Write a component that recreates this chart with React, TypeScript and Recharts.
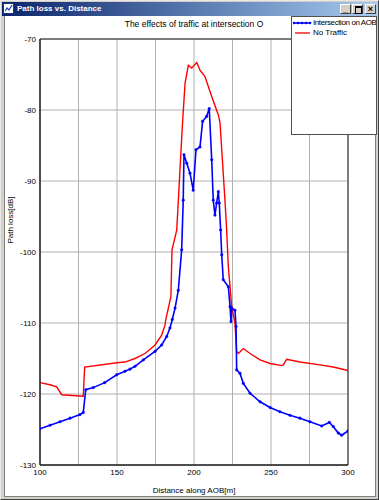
import React from 'react';
import { LineChart, Line, XAxis, YAxis, CartesianGrid, ReferenceArea, Legend } from 'recharts';

const chartTitle = 'The effects of traffic at intersection O';
const windowTitle = 'Path loss vs. Distance';
const seriesNames = ['Intersection on AOB', 'No Traffic'];

const blueDist = [100, 106.5, 113, 119.5, 126, 128.1, 129.7, 134.6, 142, 149.8, 155.2, 158.4, 161.7, 167.1, 174.7, 179, 182.3, 184.4, 185.9, 187.7, 189.8, 192, 193, 193.5, 195.3, 197.4, 199.5, 201.3, 203.9, 205.6, 208.2, 209.9, 211.5, 212.5, 213.6, 214.7, 215.8, 216.4, 217.3, 218, 219, 222.3, 223.4, 224, 224.5, 226.6, 227.3, 227.7, 229.9, 232, 236.4, 242.9, 249.4, 255.8, 262.3, 268.8, 275.3, 282.9, 287.9, 290.5, 293.7, 295.9, 300];
const blueLoss = [-124.9, -124.4, -123.9, -123.4, -122.9, -122.6, -119.4, -119.1, -118.4, -117.3, -116.8, -116.5, -116.1, -115.2, -114.0, -113.1, -111.9, -110.7, -109.5, -107.9, -105.4, -99.7, -92.7, -86.3, -87.5, -88.9, -91.3, -85.6, -85.2, -81.6, -80.9, -79.8, -87.0, -92.7, -94.8, -93.1, -91.5, -93.1, -96.9, -100.4, -103.9, -104.9, -107.7, -109.8, -107.9, -108.2, -110.5, -116.6, -117.1, -118.5, -119.9, -121.1, -121.9, -122.5, -123.0, -123.4, -123.9, -124.5, -124.0, -124.6, -125.5, -125.8, -125.2];

const redDist = [100, 106.5, 110.8, 114.1, 128.1, 129, 150, 155.2, 161.7, 168.2, 174.7, 179, 181.2, 181.6, 185, 185.7, 187.7, 188.8, 190.5, 192.5, 194.2, 196.3, 198.5, 201.8, 203.9, 207.1, 211.5, 215.8, 216.9, 220.1, 221.2, 222.3, 224.5, 226.6, 227.7, 228.8, 232, 236.4, 242.9, 249.4, 256.9, 258, 260.2, 268.8, 281.8, 290.4, 300];
const redLoss = [-118.4, -118.7, -119.0, -120.1, -120.3, -116.2, -115.6, -115.5, -115.0, -114.3, -113.1, -111.7, -110.3, -109.6, -106.3, -99.7, -97.9, -96.9, -90.0, -82.0, -76.2, -73.7, -74.1, -73.3, -74.4, -75.3, -78.1, -80.7, -81.8, -92.7, -96.9, -102.1, -107.7, -110.0, -114.0, -114.3, -113.6, -114.3, -115.2, -115.7, -116.0, -115.9, -115.1, -115.5, -115.9, -116.2, -116.7];

const xTicks = [100, 125, 150, 175, 200, 225, 250, 275, 300];
const yTicks = [-130, -120, -110, -100, -90, -80, -70];

const blueData = blueDist.map((d, i) => ({ dist: d, loss: blueLoss[i] }));
const redData = redDist.map((d, i) => ({ dist: d, loss: redLoss[i] }));

const FONT = '"Liberation Sans", Arial, sans-serif';

const LegendBox = () => (
  <div style={{ width: 86, height: 119, background: '#fff', border: '1px solid #505050', boxSizing: 'border-box', overflow: 'hidden', fontFamily: FONT, fontSize: 8, color: '#000' }}>
    <div style={{ position: 'relative', height: 10, marginTop: 1 }}>
      <svg width={20} height={10} style={{ position: 'absolute', left: 1, top: 0 }}>
        <line x1={0} y1={5} x2={18} y2={5} stroke="#0000ff" strokeWidth={1.5} />
        {[1, 5, 9, 13, 17].map((x) => <circle key={x} cx={x} cy={5} r={1.3} fill="#0000ff" />)}
      </svg>
      <span style={{ position: 'absolute', left: 21, top: 0, lineHeight: '10px', whiteSpace: 'nowrap', letterSpacing: -0.4 }}>{seriesNames[0]}</span>
    </div>
    <div style={{ position: 'relative', height: 10 }}>
      <svg width={20} height={10} style={{ position: 'absolute', left: 3, top: 0 }}>
        <line x1={0} y1={5} x2={15} y2={5} stroke="#ff0000" strokeWidth={1.3} />
      </svg>
      <span style={{ position: 'absolute', left: 21, top: 0, lineHeight: '10px', whiteSpace: 'nowrap' }}>{seriesNames[1]}</span>
    </div>
  </div>
);

const btn: React.CSSProperties = {
  position: 'absolute', top: 4, width: 11, height: 10, background: '#d4d0c8',
  borderTop: '1px solid #fff', borderLeft: '1px solid #fff', borderRight: '1px solid #404040', borderBottom: '1px solid #404040',
  boxSizing: 'border-box', fontFamily: FONT, fontSize: 8, fontWeight: 'bold', lineHeight: '8px', textAlign: 'center', color: '#000',
};

export default function App() {
  return (
    <div style={{ position: 'fixed', left: 0, top: 0, width: 379, height: 500, background: '#d4d0c8', overflow: 'hidden', fontFamily: FONT }}>
      <div style={{ position: 'absolute', left: 0, top: 0, width: 379, height: 500, boxSizing: 'border-box', borderTop: '1px solid #e8e8e8', borderLeft: '1px solid #e8e8e8', borderRight: '1px solid #404040', borderBottom: '1px solid #404040' }} />
      <div style={{ position: 'absolute', left: 2, top: 2, width: 375, height: 14, background: 'linear-gradient(to right, #0a246a, #a6caf0)' }} />
      <div style={{ position: 'absolute', left: 3, top: 3, width: 11, height: 11, background: '#fff', border: '1px solid #203080', boxSizing: 'border-box' }}>
        <svg width={9} height={9} style={{ position: 'absolute', left: 0, top: 0 }}>
          <polyline points="1,7 3,4 5,6 8,1" fill="none" stroke="#2040c0" strokeWidth={1.2} />
        </svg>
      </div>
      <div style={{ position: 'absolute', left: 17, top: 3, color: '#fff', fontWeight: 'bold', fontSize: 8, lineHeight: '11px', whiteSpace: 'nowrap' }}>{windowTitle}</div>
      <div style={{ ...btn, left: 340 }}><span style={{ position: 'relative', top: 1 }}>_</span></div>
      <div style={{ ...btn, left: 352 }}><div style={{ position: 'absolute', left: 2, top: 1, width: 5, height: 5, border: '1px solid #000', borderTopWidth: 2 }} /></div>
      <div style={{ ...btn, left: 365, fontSize: 9 }}>×</div>
      <div style={{ position: 'absolute', left: 4, top: 16, width: 372, height: 481, background: '#fff', borderLeft: '1px solid #808080', borderRight: '1px solid #808080', borderBottom: '1px solid #808080', boxSizing: 'border-box' }} />
      <div style={{ position: 'absolute', left: 0, width: 388, top: 19, textAlign: 'center', fontSize: 8.5, lineHeight: '10px', color: '#000', whiteSpace: 'nowrap' }}>{chartTitle}</div>
      <div style={{ position: 'absolute', left: 0, top: 0 }}>
        <LineChart width={379} height={500} margin={{ top: 39, right: 31, bottom: 10, left: 0 }} style={{ fontFamily: FONT }}>
          <CartesianGrid stroke="#b0b0b0" strokeWidth={1} horizontalValues={yTicks} verticalValues={xTicks} />
          <XAxis
            dataKey="dist"
            type="number"
            domain={[100, 300]}
            ticks={xTicks}
            interval={0}
            allowDataOverflow
            tickFormatter={(v: number) => (v % 50 === 0 ? String(v) : '')}
            tickLine={false}
            tickSize={0}
            tickMargin={4}
            height={25}
            axisLine={{ stroke: '#202020' }}
            tick={{ fontSize: 8, fill: '#000', fontFamily: FONT }}
            label={{ value: 'Distance along AOB[m]', position: 'insideBottom', offset: -3, fontSize: 8, fill: '#000', fontFamily: FONT }}
          />
          <YAxis
            dataKey="loss"
            type="number"
            domain={[-130, -70]}
            ticks={yTicks}
            interval={0}
            allowDataOverflow
            tickLine={false}
            tickSize={0}
            tickMargin={4}
            width={40}
            axisLine={{ stroke: '#202020' }}
            tick={{ fontSize: 8, fill: '#000', fontFamily: FONT }}
            label={{ value: 'Path loss[dB]', angle: -90, position: 'insideLeft', offset: 0, dx: 10, dy: -32, fontSize: 8, fill: '#000', fontFamily: FONT, style: { textAnchor: 'middle' } }}
          />
          <ReferenceArea x1={100} x2={300} y1={-130} y2={-70} fill="none" stroke="#202020" strokeWidth={1} ifOverflow="visible" />
          <Line data={redData} dataKey="loss" name={seriesNames[1]} type="linear" stroke="#ff0000" strokeWidth={1.4} dot={false} isAnimationActive={false} />
          <Line data={blueData} dataKey="loss" name={seriesNames[0]} type="linear" stroke="#0000ff" strokeWidth={1.6} dot={{ r: 1.3, fill: '#0000ff', stroke: '#0000ff', strokeWidth: 0.4 }} isAnimationActive={false} />
          <Legend
            layout="vertical"
            align="center"
            verticalAlign="middle"
            content={() => <LegendBox />}
            wrapperStyle={{ position: 'absolute', left: 291, top: 16, width: 86, height: 119 }}
          />
        </LineChart>
      </div>
    </div>
  );
}
